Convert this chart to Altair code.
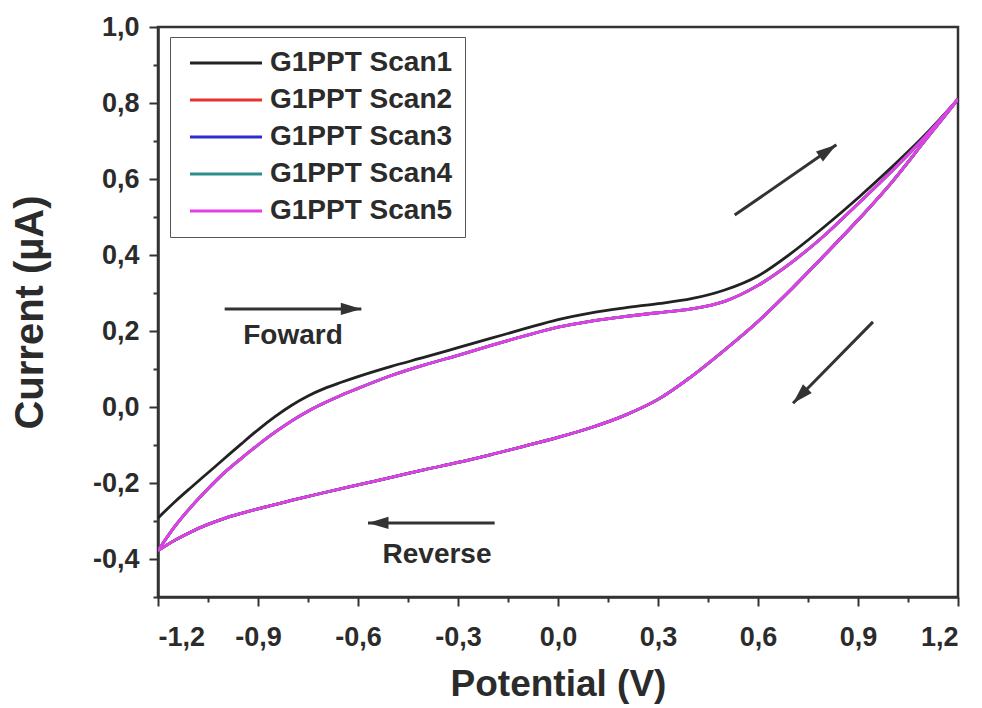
import math
import altair as alt
import pandas as pd

# ---- cyclic voltammetry readings (potential in V, current in µA) ----
scan_names = ["G1PPT Scan1", "G1PPT Scan2", "G1PPT Scan3", "G1PPT Scan4", "G1PPT Scan5"]
scan_colors = ["#222222", "#e8322e", "#2e2ecc", "#2a8f8c", "#e23fe6"]

# first scan, forward sweep (-1.2 V -> 1.2 V)
scan1_fwd_v = [-1.20, -1.15, -1.10, -1.05, -1.00, -0.95, -0.90, -0.85, -0.80, -0.75, -0.70,
               -0.65, -0.60, -0.50, -0.40, -0.30, -0.20, -0.10, 0.00, 0.10, 0.20, 0.30, 0.40,
               0.50, 0.60, 0.70, 0.80, 0.90, 1.00, 1.10, 1.20]
scan1_fwd_i = [-0.292, -0.250, -0.211, -0.173, -0.135, -0.097, -0.060, -0.026, 0.004, 0.029, 0.049,
               0.065, 0.080, 0.107, 0.131, 0.156, 0.181, 0.206, 0.230, 0.248, 0.261, 0.272, 0.285,
               0.308, 0.345, 0.405, 0.475, 0.550, 0.630, 0.715, 0.810]

# later scans, forward sweep
scanN_fwd_v = [-1.20, -1.15, -1.10, -1.05, -1.00, -0.95, -0.90, -0.85, -0.80, -0.75, -0.70,
               -0.65, -0.60, -0.50, -0.40, -0.30, -0.20, -0.10, 0.00, 0.10, 0.20, 0.30,
               0.40, 0.50, 0.60, 0.70, 0.80, 0.90, 1.00, 1.10, 1.20]
scanN_fwd_i = [-0.378, -0.315, -0.262, -0.215, -0.172, -0.135, -0.100, -0.067, -0.037, -0.011, 0.011,
               0.031, 0.049, 0.083, 0.111, 0.136, 0.162, 0.187, 0.210, 0.226, 0.238, 0.248,
               0.258, 0.278, 0.320, 0.380, 0.452, 0.535, 0.620, 0.710, 0.810]

# reverse sweep (1.2 V -> -1.2 V), shared by all scans
rev_v = [1.20, 1.10, 1.00, 0.90, 0.80, 0.70, 0.60, 0.50, 0.40, 0.30, 0.20, 0.10, 0.00,
         -0.10, -0.20, -0.30, -0.40, -0.50, -0.60, -0.70, -0.80, -0.90, -0.95, -1.00, -1.05,
         -1.10, -1.15, -1.20]
rev_i = [0.810, 0.700, 0.590, 0.492, 0.400, 0.310, 0.225, 0.150, 0.080, 0.020, -0.022, -0.054, -0.080,
         -0.103, -0.125, -0.146, -0.165, -0.185, -0.205, -0.225, -0.246, -0.268, -0.280, -0.293, -0.309,
         -0.328, -0.351, -0.378]

# axis ticks
x_major = [-1.2, -0.9, -0.6, -0.3, 0.0, 0.3, 0.6, 0.9, 1.2]
x_minor = [-1.05, -0.75, -0.45, -0.15, 0.15, 0.45, 0.75, 1.05]
y_major = [-0.4, -0.2, 0.0, 0.2, 0.4, 0.6, 0.8, 1.0]
y_minor = [-0.5, -0.3, -0.1, 0.1, 0.3, 0.5, 0.7, 0.9]

# sweep-direction arrows (data units): start -> end
arrow_x0 = [-1.00, -0.19, 0.53, 0.945]
arrow_y0 = [0.258, -0.305, 0.505, 0.224]
arrow_x1 = [-0.59, -0.57, 0.835, 0.705]
arrow_y1 = [0.258, -0.305, 0.690, 0.010]

note_text = ["Foward", "Reverse"]
note_x = [-0.795, -0.363]
note_y = [0.165, -0.41]

W, H = 800, 570
X_DOM, Y_DOM = [-1.2, 1.2], [-0.5, 1.0]
FONT = "Liberation Sans"
INK = "#2b2b2b"

rows = []
for k, name in enumerate(scan_names):
    fv, fi = (scan1_fwd_v, scan1_fwd_i) if k == 0 else (scanN_fwd_v, scanN_fwd_i)
    for v, i in zip(fv, fi):
        rows.append({"scan": name, "branch": "forward", "E": v, "I": i})
    for v, i in zip(rev_v, rev_i):
        rows.append({"scan": name, "branch": "reverse", "E": v, "I": i})
cv = pd.DataFrame(rows)

xs = alt.Scale(domain=X_DOM, nice=False, zero=False)
ys = alt.Scale(domain=Y_DOM, nice=False, zero=False)

label_expr = "replace(replace(format(datum.value, '.1f'), '.', ','), '\u2212', '-')"

curves = alt.Chart(cv).mark_line(strokeWidth=2.8, clip=True, interpolate="monotone").encode(
    x=alt.X("E:Q", scale=xs, axis=alt.Axis(
        values=x_major, labelExpr=label_expr, title="Potential (V)", orient="bottom",
        tickSize=9, tickWidth=2, labelPadding=18, titlePadding=16)),
    y=alt.Y("I:Q", scale=ys, axis=alt.Axis(
        values=y_major, labelExpr=label_expr, title="Current (µA)", orient="left",
        tickSize=9, tickWidth=2, labelPadding=10, titlePadding=42, titleFontSize=40)),
    color=alt.Color("scan:N", scale=alt.Scale(domain=scan_names, range=scan_colors),
                    sort=scan_names,
                    legend=alt.Legend(
                        orient="none", legendX=12, legendY=10, title=None,
                        symbolType="M-1,0L11,0", symbolSize=144, symbolStrokeWidth=3,
                        labelFont=FONT, labelFontSize=28, labelFontWeight="bold",
                        labelColor=INK, labelLimit=400, strokeColor="#555555",
                        fillColor="white", padding=12, rowPadding=9, labelOffset=60)),
    detail="branch:N",
    order="E:Q",
)

# minor ticks on both axes
minor = alt.Chart(pd.DataFrame({"E": [0.0], "I": [0.0]})).mark_point(opacity=0).encode(
    x=alt.X("E:Q", scale=xs, axis=alt.Axis(values=x_minor, labels=False, domain=False,
                                            title=None, orient="bottom", tickSize=5, tickWidth=2)),
    y=alt.Y("I:Q", scale=ys, axis=alt.Axis(values=y_minor, labels=False, domain=False,
                                            title=None, orient="left", tickSize=5, tickWidth=2)),
)

# arrows
px_x = W / (X_DOM[1] - X_DOM[0])
px_y = H / (Y_DOM[1] - Y_DOM[0])
arr = pd.DataFrame({"x0": arrow_x0, "y0": arrow_y0, "x1": arrow_x1, "y1": arrow_y1})
arr["ang"] = [math.degrees(math.atan2((b - a) * px_x, (d - c) * px_y)) % 360
              for a, b, c, d in zip(arrow_x0, arrow_x1, arrow_y0, arrow_y1)]

shafts = alt.Chart(arr).mark_rule(color="#333333", strokeWidth=3).encode(
    x=alt.X("x0:Q", scale=xs, axis=None), y=alt.Y("y0:Q", scale=ys, axis=None),
    x2="x1:Q", y2="y1:Q")
heads = alt.Chart(arr).mark_point(
    shape="M0,0L0.6,2L-0.6,2Z", filled=True, color="#333333", opacity=1, size=420
).encode(x=alt.X("x1:Q", scale=xs, axis=None), y=alt.Y("y1:Q", scale=ys, axis=None),
         angle=alt.Angle("ang:Q", scale=None))

notes = alt.Chart(pd.DataFrame({"t": note_text, "x": note_x, "y": note_y})).mark_text(
    font=FONT, fontSize=28, fontWeight="bold", color=INK, align="center", baseline="alphabetic"
).encode(x=alt.X("x:Q", scale=xs, axis=None), y=alt.Y("y:Q", scale=ys, axis=None), text="t:N")

chart = alt.layer(minor, curves, shafts, heads, notes).resolve_axis(
    x="independent", y="independent"
).properties(
    width=W, height=H,
    autosize=alt.AutoSizeParams(type="none"),
    padding={"left": 158, "top": 27, "right": 24, "bottom": 111},
    background="white",
).configure_view(stroke="#333333", strokeWidth=2.5).configure_axis(
    domainColor="#333333", domainWidth=2.5, tickColor="#333333", grid=False,
    labelFont=FONT, labelFontSize=27, labelFontWeight="bold", labelColor=INK,
    titleFont=FONT, titleFontWeight="bold", titleColor=INK, titleFontSize=37,
)

chart.save("out.html", embed_options={"renderer": "svg", "actions": False})
